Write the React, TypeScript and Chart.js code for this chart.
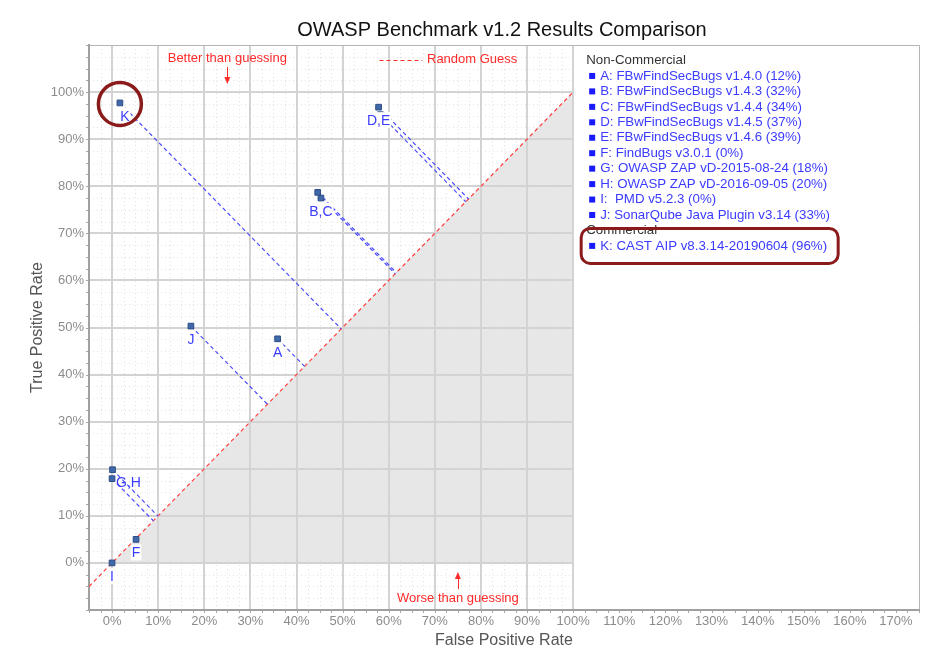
import { useEffect, useRef } from 'react';
import { Chart, registerables } from 'chart.js';

Chart.register(...registerables);

const chartTitle = 'OWASP Benchmark v1.2 Results Comparison';
const xAxisTitle = 'False Positive Rate';
const yAxisTitle = 'True Positive Rate';
const betterText = 'Better than guessing';
const worseText = 'Worse than guessing';
const randomGuessText = 'Random Guess';

const groupNames = ['Non-Commercial', 'Commercial'];
const toolLetters = ['A', 'B', 'C', 'D', 'E', 'F', 'G', 'H', 'I', 'J', 'K'];
const toolNames = [
  'FBwFindSecBugs v1.4.0',
  'FBwFindSecBugs v1.4.3',
  'FBwFindSecBugs v1.4.4',
  'FBwFindSecBugs v1.4.5',
  'FBwFindSecBugs v1.4.6',
  'FindBugs v3.0.1',
  'OWASP ZAP vD-2015-08-24',
  'OWASP ZAP vD-2016-09-05',
  ' PMD v5.2.3',
  'SonarQube Java Plugin v3.14',
  'CAST AIP v8.3.14-20190604',
];
const toolScores = [12, 32, 34, 37, 39, 0, 18, 20, 0, 33, 96];
const toolGroups = [0, 0, 0, 0, 0, 0, 0, 0, 0, 0, 1];
const falsePositiveRates = [35.9, 45.3, 44.6, 58.2, 57.8, 5.2, 0.0, 0.1, 0.0, 17.1, 1.7];
const truePositiveRates = [47.6, 77.5, 78.7, 95.2, 96.8, 5.0, 17.9, 19.8, 0.0, 50.3, 97.7];
const pointLabels = ['A', 'B,C', '', '', 'D,E', 'F', 'G,H', '', 'I', 'J', 'K'];
const highlightedTool = 'K';

const xTickValues = [0, 10, 20, 30, 40, 50, 60, 70, 80, 90, 100, 110, 120, 130, 140, 150, 160, 170];
const yTickValues = [0, 10, 20, 30, 40, 50, 60, 70, 80, 90, 100];

const FONT = "'Liberation Sans', Arial, sans-serif";
const BLUE_TEXT = '#3b3bff';
const RED = '#ff2a2a';
const DARK_RED = '#8b1a1a';

const overlayPlugin = {
  id: 'owaspOverlay',
  beforeDraw(chart: any) {
    const { ctx, chartArea: a, scales } = chart;
    const xs = scales.x;
    const ys = scales.y;
    const px = (v: number) => xs.getPixelForValue(v);
    const py = (v: number) => ys.getPixelForValue(v);
    const r = (v: number) => Math.round(v) + 0.5;
    ctx.save();
    // shaded "worse than guessing" triangle
    ctx.fillStyle = '#e7e7e7';
    ctx.beginPath();
    ctx.moveTo(px(0), py(0));
    ctx.lineTo(px(100), py(100));
    ctx.lineTo(px(100), py(0));
    ctx.closePath();
    ctx.fill();
    // minor grid
    ctx.strokeStyle = '#e2e2e2';
    ctx.lineWidth = 1;
    ctx.setLineDash([1, 3]);
    for (let v = -5; v <= 100; v += 2.5) {
      if (v % 10 === 0) continue;
      ctx.beginPath();
      ctx.moveTo(r(px(v)), a.top);
      ctx.lineTo(r(px(v)), a.bottom);
      ctx.stroke();
    }
    for (let v = -10; v <= 110; v += 2.5) {
      if (v % 10 === 0) continue;
      ctx.beginPath();
      ctx.moveTo(a.left, r(py(v)));
      ctx.lineTo(px(100), r(py(v)));
      ctx.stroke();
    }
    // major grid
    ctx.setLineDash([]);
    ctx.strokeStyle = '#d3d3d3';
    ctx.lineWidth = 2;
    for (let v = 0; v <= 100; v += 10) {
      ctx.beginPath();
      ctx.moveTo(Math.round(px(v)), a.top);
      ctx.lineTo(Math.round(px(v)), a.bottom);
      ctx.stroke();
      ctx.beginPath();
      ctx.moveTo(a.left, Math.round(py(v)));
      ctx.lineTo(px(100), Math.round(py(v)));
      ctx.stroke();
    }
    // frame (top & right)
    ctx.strokeStyle = '#b4b4b4';
    ctx.lineWidth = 1;
    ctx.beginPath();
    ctx.moveTo(a.left, r(a.top));
    ctx.lineTo(r(a.right), r(a.top));
    ctx.lineTo(r(a.right), a.bottom);
    ctx.stroke();
    // minor axis ticks
    ctx.strokeStyle = '#a8a8a8';
    for (let v = -5; v <= 175; v += 2.5) {
      ctx.beginPath();
      ctx.moveTo(r(px(v)), a.bottom);
      ctx.lineTo(r(px(v)), a.bottom + 3);
      ctx.stroke();
    }
    for (let v = -10; v <= 110; v += 2.5) {
      ctx.beginPath();
      ctx.moveTo(a.left - 3, r(py(v)));
      ctx.lineTo(a.left, r(py(v)));
      ctx.stroke();
    }
    ctx.restore();
  },
  afterDatasetsDraw(chart: any) {
    const { ctx, scales } = chart;
    const px = (v: number) => scales.x.getPixelForValue(v);
    const py = (v: number) => scales.y.getPixelForValue(v);
    ctx.save();
    // point labels
    ctx.font = `14px ${FONT}`;
    ctx.textBaseline = 'middle';
    pointLabels.forEach((lab, i) => {
      if (!lab) return;
      const x = px(falsePositiveRates[i]);
      const y = py(truePositiveRates[i]);
      const w = ctx.measureText(lab).width;
      let cx = x;
      let cy = y + 13;
      let bg = true;
      if (lab === 'G,H') {
        cx = x + 4 + w / 2;
        cy = y + 4;
        bg = false;
      }
      if (lab === 'K') cx = x + 5;
      if (bg) {
        ctx.fillStyle = '#ffffff';
        ctx.fillRect(cx - w / 2 - 1, cy - 8, w + 2, 16);
      }
      ctx.fillStyle = BLUE_TEXT;
      ctx.textAlign = 'center';
      ctx.fillText(lab, cx, cy + 1);
    });
    // highlight circle around K
    const k = toolLetters.indexOf(highlightedTool);
    ctx.strokeStyle = DARK_RED;
    ctx.lineWidth = 3.5;
    ctx.beginPath();
    ctx.arc(px(falsePositiveRates[k]), py(truePositiveRates[k]) + 1, 21.5, 0, Math.PI * 2);
    ctx.stroke();
    ctx.restore();
  },
  afterDraw(chart: any) {
    const { ctx, chartArea: a, scales } = chart;
    const px = (v: number) => scales.x.getPixelForValue(v);
    ctx.save();
    // title
    ctx.fillStyle = '#111';
    ctx.font = `20px ${FONT}`;
    ctx.textAlign = 'center';
    ctx.textBaseline = 'middle';
    ctx.fillText(chartTitle, (a.left + a.right) / 2 - 2, 30);
    // axis titles
    ctx.fillStyle = '#555';
    ctx.font = `16px ${FONT}`;
    ctx.fillText(xAxisTitle, (a.left + a.right) / 2, 641);
    ctx.save();
    ctx.translate(38, (a.top + a.bottom) / 2);
    ctx.rotate(-Math.PI / 2);
    ctx.fillText(yAxisTitle, 0, 0);
    ctx.restore();
    // annotations
    ctx.font = `13px ${FONT}`;
    ctx.fillStyle = RED;
    ctx.strokeStyle = RED;
    ctx.lineWidth = 1;
    const bx = px(25);
    ctx.fillText(betterText, bx, 58);
    ctx.beginPath();
    ctx.moveTo(Math.round(bx) + 0.5, 67);
    ctx.lineTo(Math.round(bx) + 0.5, 80);
    ctx.stroke();
    ctx.beginPath();
    ctx.moveTo(bx - 3, 77);
    ctx.lineTo(bx + 3, 77);
    ctx.lineTo(bx, 84);
    ctx.closePath();
    ctx.fill();
    const wx = px(75);
    ctx.fillText(worseText, wx, 598);
    ctx.beginPath();
    ctx.moveTo(Math.round(wx) + 0.5, 589);
    ctx.lineTo(Math.round(wx) + 0.5, 576);
    ctx.stroke();
    ctx.beginPath();
    ctx.moveTo(wx - 3, 579);
    ctx.lineTo(wx + 3, 579);
    ctx.lineTo(wx, 572);
    ctx.closePath();
    ctx.fill();
    // random guess legend
    ctx.setLineDash([4, 3]);
    ctx.beginPath();
    ctx.moveTo(px(58), 60.5);
    ctx.lineTo(px(67.3), 60.5);
    ctx.stroke();
    ctx.setLineDash([]);
    ctx.textAlign = 'left';
    ctx.fillText(randomGuessText, px(68.3), 59);
    // series legend
    const lx = px(100) + 13;
    let ly = a.top + 15;
    const step = 15.45;
    let lastGroup = -1;
    let kRow = 0;
    ctx.font = `13.3px ${FONT}`;
    toolLetters.forEach((letter, i) => {
      if (toolGroups[i] !== lastGroup) {
        lastGroup = toolGroups[i];
        ctx.fillStyle = '#333';
        ctx.fillText(groupNames[lastGroup], lx, ly);
        ly += step;
      }
      ctx.fillStyle = '#1a1aff';
      ctx.fillRect(lx + 3, ly - 2.5, 6, 6);
      ctx.fillStyle = BLUE_TEXT;
      ctx.fillText(`${letter}: ${toolNames[i]} (${toolScores[i]}%)`, lx + 14, ly + 0.5);
      if (letter === highlightedTool) kRow = ly;
      ly += step;
    });
    // highlight box around K legend row
    ctx.strokeStyle = DARK_RED;
    ctx.lineWidth = 3;
    ctx.beginPath();
    ctx.roundRect(lx - 5, kRow - 17, 257, 35, 9);
    ctx.stroke();
    ctx.restore();
  },
};

export default function App() {
  const canvasRef = useRef<HTMLCanvasElement | null>(null);

  useEffect(() => {
    document.body.style.margin = '0';
    const canvas = canvasRef.current;
    if (!canvas) return;

    const scatterData = toolLetters.map((_, i) => ({ x: falsePositiveRates[i], y: truePositiveRates[i] }));
    const perpDatasets = toolLetters.map((_, i) => {
      const m = (falsePositiveRates[i] + truePositiveRates[i]) / 2;
      return {
        type: 'line' as const,
        label: `perp-${toolLetters[i]}`,
        data: [
          { x: falsePositiveRates[i], y: truePositiveRates[i] },
          { x: m, y: m },
        ],
        borderColor: '#4a4aff',
        borderWidth: 1.2,
        borderDash: [4, 3],
        pointRadius: 0,
        fill: false,
      };
    });

    const chart = new Chart(canvas, {
      type: 'scatter',
      data: {
        datasets: [
          {
            type: 'scatter' as const,
            label: 'Tools',
            data: scatterData,
            pointStyle: 'rect',
            pointRadius: 4,
            backgroundColor: '#4169aa',
            borderColor: '#2b4c86',
            borderWidth: 1,
          },
          ...perpDatasets,
          {
            type: 'line' as const,
            label: 'Random Guess',
            data: [
              { x: -5, y: -5 },
              { x: 100, y: 100 },
            ],
            borderColor: '#ff3b3b',
            borderWidth: 1.2,
            borderDash: [4, 3],
            pointRadius: 0,
            fill: false,
          },
        ] as any,
      },
      options: {
        animation: false,
        responsive: true,
        maintainAspectRatio: false,
        layout: { padding: { top: 45, right: 24, left: 0, bottom: 0 } },
        plugins: {
          legend: { display: false },
          title: { display: false },
          tooltip: { enabled: false },
        },
        scales: {
          x: {
            type: 'linear',
            min: -5,
            max: 175,
            afterFit: (s: any) => {
              s.height = 62;
            },
            afterBuildTicks: (s: any) => {
              s.ticks = xTickValues.map((v) => ({ value: v }));
            },
            grid: { display: false, drawTicks: false, tickLength: 0 },
            border: { display: true, color: '#a0a0a0', width: 2 },
            ticks: {
              autoSkip: false,
              maxRotation: 0,
              padding: 4,
              color: '#8c8c8c',
              font: { family: FONT, size: 13 },
              callback: (v: any) => `${v}%`,
            },
          },
          y: {
            type: 'linear',
            min: -10,
            max: 110,
            afterFit: (s: any) => {
              s.width = 89;
            },
            afterBuildTicks: (s: any) => {
              s.ticks = yTickValues.map((v) => ({ value: v }));
            },
            grid: { display: false, drawTicks: false, tickLength: 0 },
            border: { display: true, color: '#a0a0a0', width: 2 },
            ticks: {
              autoSkip: false,
              padding: 5,
              color: '#8c8c8c',
              font: { family: FONT, size: 13 },
              callback: (v: any) => `${v}%`,
            },
          },
        },
      } as any,
      plugins: [overlayPlugin],
    });

    return () => chart.destroy();
  }, []);

  return (
    <div style={{ width: 943, height: 672, position: 'relative', background: '#fff' }}>
      <canvas ref={canvasRef} />
    </div>
  );
}
